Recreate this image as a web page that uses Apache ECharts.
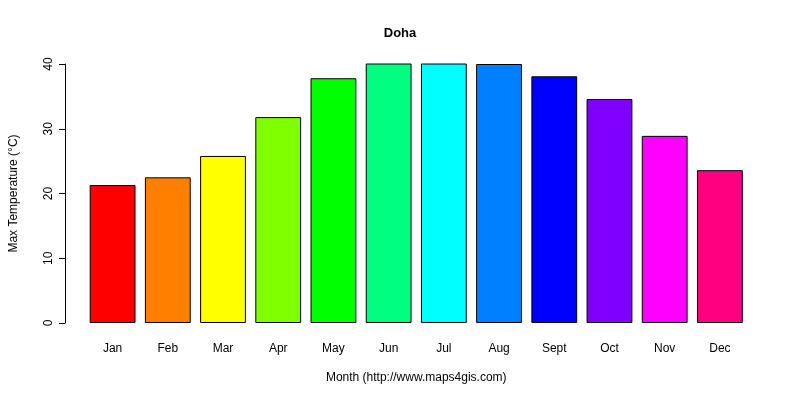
<!DOCTYPE html><html><head><meta charset="utf-8"><script src="https://cdn.jsdelivr.net/npm/echarts@6/dist/echarts.min.js"></script></head><body style="margin:0"><div id="c" style="width:800px;height:400px"></div><script>
const months=['Jan','Feb','Mar','Apr','May','Jun','Jul','Aug','Sept','Oct','Nov','Dec'];
const maxTemp=[21.3,22.5,25.8,31.8,37.8,40.3,40.8,40.0,38.1,34.6,28.9,23.6];
const colors=['#FF0000','#FF8000','#FFFF00','#80FF00','#00FF00','#00FF80','#00FFFF','#0080FF','#0000FF','#8000FF','#FF00FF','#FF0080'];
const yTicks=[0,10,20,30,40];
const ch=echarts.init(document.getElementById('c'));
const f='Liberation Sans, Arial, sans-serif';
ch.setOption({
 animation:false,
 title:{text:'Doha',left:'center',top:22,textStyle:{fontFamily:f,fontSize:13,fontWeight:'bold',color:'#000'}},
 grid:{left:80.5,right:52.5,top:64,bottom:77},
 xAxis:{type:'category',data:months,axisLine:{show:false},axisTick:{show:false},
  axisLabel:{color:'#000',fontFamily:f,fontSize:12,margin:20},
  name:'Month (http://www.maps4gis.com)',nameLocation:'middle',nameGap:49,nameTextStyle:{color:'#000',fontFamily:f,fontSize:12}},
 yAxis:{type:'value',min:0,max:40,interval:10,offset:20,splitLine:{show:false},
  axisLine:{show:true,lineStyle:{color:'#000'}},axisTick:{show:true,length:6,lineStyle:{color:'#000'}},
  axisLabel:{rotate:90,color:'#000',fontFamily:f,fontSize:12,margin:10,formatter:v=>yTicks.includes(v)?String(v):''},
  name:'Max Temperature (°C)',nameLocation:'middle',nameGap:45,nameTextStyle:{color:'#000',fontFamily:f,fontSize:12}},
 series:[{type:'bar',barCategoryGap:'17%',data:maxTemp.map((v,i)=>({value:v,itemStyle:{color:colors[i]}})),
  itemStyle:{borderColor:'#000',borderWidth:1}}]
});
</script></body></html>
